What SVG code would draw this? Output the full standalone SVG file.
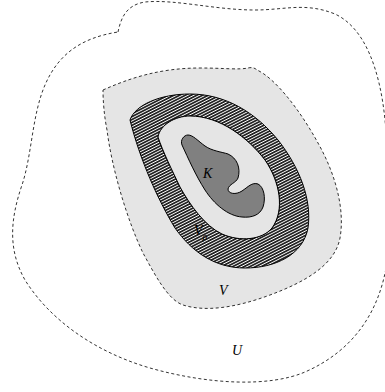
<svg xmlns="http://www.w3.org/2000/svg" width="385" height="392" viewBox="0 0 385 392">
<style>
.dash{fill:none;stroke:#000;stroke-width:0.8;stroke-dasharray:3 2.5}
.lbl{font-family:"Liberation Serif",serif;font-style:italic;font-size:14px;fill:#000}
.sub{font-family:"Liberation Serif",serif;font-style:italic;font-size:10px;fill:#000}
</style>
<defs>
<pattern id="hatch" patternUnits="userSpaceOnUse" width="4" height="2.6" patternTransform="rotate(-27)">
<rect width="4" height="2.6" fill="#111"/>
<line x1="0" y1="1.3" x2="4" y2="1.3" stroke="#fff" stroke-width="1"/>
</pattern>
</defs>
<rect width="385" height="392" fill="#fff"/>
<g id="U">
<path class="dash" d="M118,32 C121,18 126,5 145,2 C175,-1 215,10 255,10 C285,10 305,2 335,14 C365,28 380,70 385,120 C390,170 392,220 387,262 C380,310 355,350 305,372 C270,387 210,385 150,368 C95,352 50,320 25,280 C8,250 10,220 22,185 C32,155 32,115 45,85 C58,55 80,38 118,32 Z"/>
<text class="lbl" x="232" y="355">U</text>
</g>
<g id="V">
<path d="M103,90 C130,78 160,68 200,68 C225,68 238,70 248,68 C252,67 255,68 257,70 C275,78 300,110 318,143 C336,175 345,210 340,238 C335,265 305,282 270,295 C235,308 205,312 183,305 C168,300 155,275 143,253 C128,222 112,170 107,130 C104,115 103,100 103,90 Z" fill="#e5e5e5" stroke="#000" stroke-width="0.8" stroke-dasharray="3 2.5"/>
<text class="lbl" x="219" y="295">V</text>
</g>
<g id="Vrho">
<path d="M130,120 C135,105 160,94 190,94 C225,94 255,112 278,140 C300,168 312,200 308,228 C303,255 275,268 245,268 C215,268 192,252 175,228 C158,200 140,160 130,120 Z M158,137 C160,125 175,116 190,116 C220,116 248,138 265,160 C280,182 285,210 272,228 C262,240 240,242 222,234 C205,226 190,205 180,187 C172,170 163,152 158,137 Z" fill="url(#hatch)" fill-rule="evenodd" stroke="#000" stroke-width="1"/>
<text class="lbl" x="194" y="235">V<tspan class="sub" dy="5">ρ</tspan></text>
</g>
<g id="inner">
<path d="M158,137 C160,125 175,116 190,116 C220,116 248,138 265,160 C280,182 285,210 272,228 C262,240 240,242 222,234 C205,226 190,205 180,187 C172,170 163,152 158,137 Z" fill="#e5e5e5" stroke="#000" stroke-width="1"/>
</g>
<g id="K">
<path d="M182,145 C180,140 184,135 188,135 C193,135 198,141 205,146 C212,151 222,152 228,154 C237,158 241,168 238,178 C236,183 229,184 228,189 C228,194 236,195 242,191 C248,187 252,182 258,184 C264,187 266,198 263,207 C260,215 252,218 242,217 C228,216 214,204 205,190 C196,176 188,158 182,145 Z" fill="#808080" stroke="#000" stroke-width="1"/>
<text class="lbl" x="203" y="178">K</text>
</g>
<g id="connectors"/>
</svg>
